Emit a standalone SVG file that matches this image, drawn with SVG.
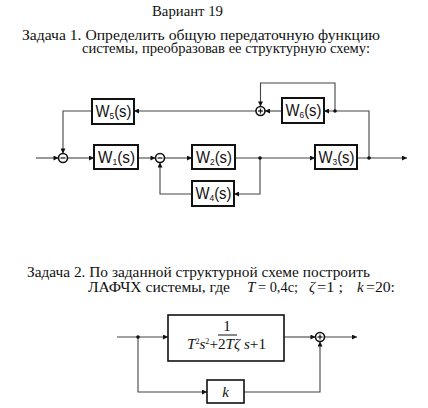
<svg xmlns="http://www.w3.org/2000/svg" width="428" height="408" viewBox="0 0 428 408">
<style>
.t{font-family:"Liberation Serif","Times New Roman",serif;font-size:15px;fill:#111;}
.s14{font-size:14px;}
.i{font-style:italic;}
.w{font-family:"Liberation Sans",Arial,sans-serif;font-size:16px;fill:#111;}
.sub{font-size:9px;}
.box{fill:#fff;stroke:#111;stroke-width:2;}
.box2{fill:#fff;stroke:#111;stroke-width:1.6;}
.ln{fill:none;stroke:#444;stroke-width:1.1;}
.arr{marker-end:url(#ah);}
.sum{fill:#fff;stroke:#111;stroke-width:1.6;}
.sg{stroke:#111;stroke-width:1.2;}
.dot{fill:#111;}
</style>
<defs>
<marker id="ah" viewBox="0 0 10 10" refX="10" refY="5" markerWidth="6" markerHeight="5" markerUnits="userSpaceOnUse" orient="auto">
<path d="M0,0 L10,5 L0,10 z" fill="#111"/>
</marker>
</defs>
<rect width="428" height="408" fill="#fff"/>

<g id="texts" xml:space="preserve">
<text class="t" x="152" y="15.5" textLength="71" lengthAdjust="spacingAndGlyphs">Вариант 19</text>
<text class="t s14" x="22" y="40" textLength="358" lengthAdjust="spacingAndGlyphs">Задача 1. Определить общую  передаточную  функцию</text>
<text class="t s14" x="82" y="53" textLength="288" lengthAdjust="spacingAndGlyphs">системы, преобразовав ее структурную схему:</text>
<text class="t" x="27" y="277" textLength="343" lengthAdjust="spacingAndGlyphs">Задача 2. По заданной структурной схеме построить</text>
<text class="t" x="88" y="291.5" textLength="142" lengthAdjust="spacingAndGlyphs">ЛАФЧХ системы, где</text>
<text class="t i" x="247" y="291.5">T</text>
<text class="t" x="258" y="291.5" textLength="40" lengthAdjust="spacingAndGlyphs">= 0,4c;</text>
<text class="t i" x="309" y="291.5">ζ</text>
<text class="t" x="317" y="291.5" textLength="26" lengthAdjust="spacingAndGlyphs">=1 ;</text>
<text class="t i" x="357" y="291.5">k</text>
<text class="t" x="366" y="291.5" textLength="29" lengthAdjust="spacingAndGlyphs">=20:</text>
</g>

<g id="connectors">
<line class="ln arr" x1="36" y1="158" x2="58.5" y2="158"/>
<line class="ln arr" x1="67.5" y1="158" x2="94" y2="158"/>
<line class="ln arr" x1="138" y1="158" x2="155.5" y2="158"/>
<line class="ln arr" x1="164.5" y1="158" x2="192" y2="158"/>
<line class="ln arr" x1="235" y1="158" x2="315" y2="158"/>
<line class="ln arr" x1="357" y1="158" x2="407" y2="158"/>
<polyline class="ln arr" points="260,158 260,194 234,194"/>
<polyline class="ln arr" points="192,194 160,194 160,162.5"/>
<polyline class="ln arr" points="369,158 369,111 324,111"/>
<line class="ln arr" x1="282" y1="111" x2="265" y2="111"/>
<polyline class="ln arr" points="335,111 335,83 260.5,83 260.5,106.5"/>
<line class="ln arr" x1="256" y1="111" x2="134" y2="111"/>
<polyline class="ln arr" points="92,111 63,111 63,153.5"/>
<circle class="dot" cx="260" cy="158" r="1.8"/>
<circle class="dot" cx="369" cy="158" r="1.8"/>
<circle class="dot" cx="335" cy="111" r="1.8"/>
<line class="ln arr" x1="117" y1="337" x2="168" y2="337"/>
<line class="ln arr" x1="284" y1="337" x2="315.5" y2="337"/>
<line class="ln arr" x1="324.5" y1="337" x2="357" y2="337"/>
<polyline class="ln arr" points="138,337 138,392 207,392"/>
<polyline class="ln arr" points="244,392 320,392 320,341.5"/>
<circle class="dot" cx="138" cy="337" r="1.8"/>
</g>

<g id="sum1">
<circle class="sum" cx="63" cy="158" r="4.5"/>
<line class="sg" x1="60.5" y1="158" x2="65.5" y2="158"/>
</g>
<g id="sum2">
<circle class="sum" cx="160" cy="158" r="4.5"/>
<line class="sg" x1="157.5" y1="158" x2="162.5" y2="158"/>
</g>
<g id="sum3">
<circle class="sum" cx="260.5" cy="111" r="4.5"/>
<line class="sg" x1="258" y1="111" x2="263" y2="111"/>
<line class="sg" x1="260.5" y1="108.5" x2="260.5" y2="113.5"/>
</g>

<g id="W1">
<rect class="box" x="94" y="145" width="44" height="24"/>
<text class="w" x="98" y="163" textLength="37" lengthAdjust="spacingAndGlyphs">W<tspan class="sub" dy="2">1</tspan><tspan dy="-2">(s)</tspan></text>
</g>
<g id="W2">
<rect class="box" x="192" y="145" width="43" height="24"/>
<text class="w" x="196" y="163" textLength="36" lengthAdjust="spacingAndGlyphs">W<tspan class="sub" dy="2">2</tspan><tspan dy="-2">(s)</tspan></text>
</g>
<g id="W3">
<rect class="box" x="315" y="145" width="42" height="24"/>
<text class="w" x="318.5" y="163" textLength="36" lengthAdjust="spacingAndGlyphs">W<tspan class="sub" dy="2">3</tspan><tspan dy="-2">(s)</tspan></text>
</g>
<g id="W4">
<rect class="box" x="192" y="181" width="42" height="25"/>
<text class="w" x="195.5" y="199" textLength="36" lengthAdjust="spacingAndGlyphs">W<tspan class="sub" dy="2">4</tspan><tspan dy="-2">(s)</tspan></text>
</g>
<g id="W5">
<rect class="box" x="92" y="99" width="42" height="25"/>
<text class="w" x="95.5" y="117" textLength="36" lengthAdjust="spacingAndGlyphs">W<tspan class="sub" dy="2">5</tspan><tspan dy="-2">(s)</tspan></text>
</g>
<g id="W6">
<rect class="box" x="282" y="98" width="42" height="25"/>
<text class="w" x="285.5" y="116" textLength="36" lengthAdjust="spacingAndGlyphs">W<tspan class="sub" dy="2">6</tspan><tspan dy="-2">(s)</tspan></text>
</g>

<g id="TF">
<rect class="box2" x="168" y="315" width="116" height="46"/>
<text class="t" x="227" y="331" text-anchor="middle">1</text>
<line x1="218" y1="335" x2="237" y2="335" stroke="#111" stroke-width="1"/>
<text class="t" x="187" y="348.5" textLength="79" lengthAdjust="spacingAndGlyphs"><tspan class="i">T</tspan><tspan font-size="8" dy="-5">2</tspan><tspan class="i" dy="5">s</tspan><tspan font-size="8" dy="-5">2</tspan><tspan dy="5">+2</tspan><tspan class="i">Tζ s</tspan><tspan>+1</tspan></text>
</g>
<g id="sum4">
<circle class="sum" cx="320" cy="337" r="4.5"/>
<line class="sg" x1="317.5" y1="337" x2="322.5" y2="337"/>
<line class="sg" x1="320" y1="334.5" x2="320" y2="339.5"/>
</g>
<g id="K">
<rect class="box2" x="207" y="380" width="37" height="23"/>
<text class="t i" x="225.5" y="396.5" text-anchor="middle">k</text>
</g>
</svg>
